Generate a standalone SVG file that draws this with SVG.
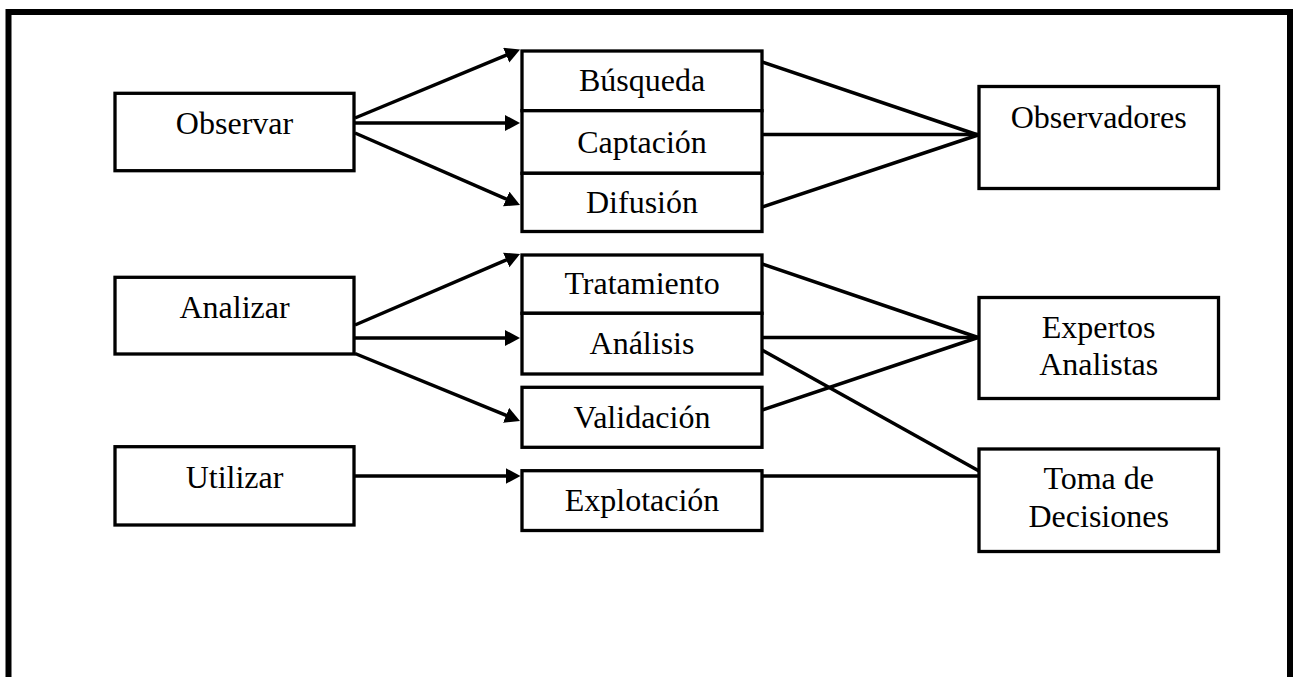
<svg xmlns="http://www.w3.org/2000/svg" width="1295" height="677" viewBox="0 0 1295 677">
  <style>
    .box { fill: #ffffff; stroke: #000000; stroke-width: 3.3; }
    .frame { fill: none; stroke: #000000; stroke-width: 6; }
    .label { font-family: "Liberation Serif", "Times New Roman", serif; font-size: 32px; fill: #000000; text-anchor: middle; }
    .link { stroke: #000000; stroke-width: 3.5; fill: none; }
    .arrow { stroke: #000000; stroke-width: 3.5; fill: none; marker-end: url(#head); }
  </style>
  <defs>
    <marker id="head" markerUnits="userSpaceOnUse" markerWidth="17" markerHeight="17" refX="4" refY="8" orient="auto">
      <path d="M0,0 L15,8 L0,16 Z" fill="#000000"/>
    </marker>
  </defs>

  <rect width="1295" height="677" fill="#ffffff"/>

  <!-- outer border, open at the bottom edge of the page -->
  <path class="frame" d="M8.5,690 L8.5,12 L1290,12 L1290,690"/>

  <!-- connectors -->
  <g id="connectors">
    <!-- Observar fan-out -->
    <line class="arrow" x1="355" y1="118" x2="509.9" y2="53.7"/>
    <line class="arrow" x1="355" y1="123" x2="509" y2="123"/>
    <line class="arrow" x1="355" y1="133" x2="509.9" y2="200.6"/>
    <!-- Analizar fan-out -->
    <line class="arrow" x1="355" y1="325" x2="509.9" y2="258.4"/>
    <line class="arrow" x1="355" y1="338" x2="509" y2="338"/>
    <line class="arrow" x1="355" y1="353.5" x2="509.8" y2="416.8"/>
    <!-- Utilizar -->
    <line class="arrow" x1="355" y1="476" x2="509.5" y2="476"/>

    <!-- towards Observadores -->
    <line class="link" x1="762" y1="62" x2="978" y2="135"/>
    <line class="link" x1="762" y1="134.5" x2="978" y2="134.5"/>
    <line class="link" x1="762" y1="207" x2="978" y2="135"/>
    <!-- towards Expertos Analistas -->
    <line class="link" x1="762" y1="264" x2="978" y2="337.5"/>
    <line class="link" x1="762" y1="337.5" x2="978" y2="337.5"/>
    <line class="link" x1="762" y1="410" x2="978" y2="337.5"/>
    <!-- towards Toma de Decisiones -->
    <line class="link" x1="762" y1="350" x2="979" y2="471"/>
    <line class="link" x1="762" y1="476" x2="979" y2="476"/>
  </g>

  <!-- left column -->
  <g id="observar">
    <rect class="box" x="115" y="93.3" width="239" height="77.4"/>
    <text class="label" x="234.5" y="134">Observar</text>
  </g>
  <g id="analizar">
    <rect class="box" x="115" y="277.3" width="239" height="76.7"/>
    <text class="label" x="234.5" y="318">Analizar</text>
  </g>
  <g id="utilizar">
    <rect class="box" x="115" y="446.7" width="239" height="78.3"/>
    <text class="label" x="234.5" y="488">Utilizar</text>
  </g>

  <!-- middle column -->
  <g id="busqueda">
    <rect class="box" x="522" y="51" width="240" height="59.7"/>
    <text class="label" x="642" y="91">Búsqueda</text>
  </g>
  <g id="captacion">
    <rect class="box" x="522" y="110.7" width="240" height="62.6"/>
    <text class="label" x="642" y="153">Captación</text>
  </g>
  <g id="difusion">
    <rect class="box" x="522" y="173.3" width="240" height="58.2"/>
    <text class="label" x="642" y="213">Difusión</text>
  </g>
  <g id="tratamiento">
    <rect class="box" x="522" y="255" width="240" height="58.3"/>
    <text class="label" x="642" y="294">Tratamiento</text>
  </g>
  <g id="analisis">
    <rect class="box" x="522" y="313.3" width="240" height="60.7"/>
    <text class="label" x="642" y="354">Análisis</text>
  </g>
  <g id="validacion">
    <rect class="box" x="522" y="387.3" width="240" height="60"/>
    <text class="label" x="642" y="428">Validación</text>
  </g>
  <g id="explotacion">
    <rect class="box" x="522" y="470.7" width="240" height="59.8"/>
    <text class="label" x="642" y="511">Explotación</text>
  </g>

  <!-- right column -->
  <g id="observadores">
    <rect class="box" x="979" y="86.5" width="239.5" height="102"/>
    <text class="label" x="1098.7" y="128">Observadores</text>
  </g>
  <g id="expertos">
    <rect class="box" x="979" y="297.5" width="239.5" height="101"/>
    <text class="label" x="1098.7" y="338">Expertos</text>
    <text class="label" x="1098.7" y="375">Analistas</text>
  </g>
  <g id="toma">
    <rect class="box" x="979" y="449" width="239.5" height="102.5"/>
    <text class="label" x="1098.7" y="489">Toma de</text>
    <text class="label" x="1098.7" y="527">Decisiones</text>
  </g>
</svg>
